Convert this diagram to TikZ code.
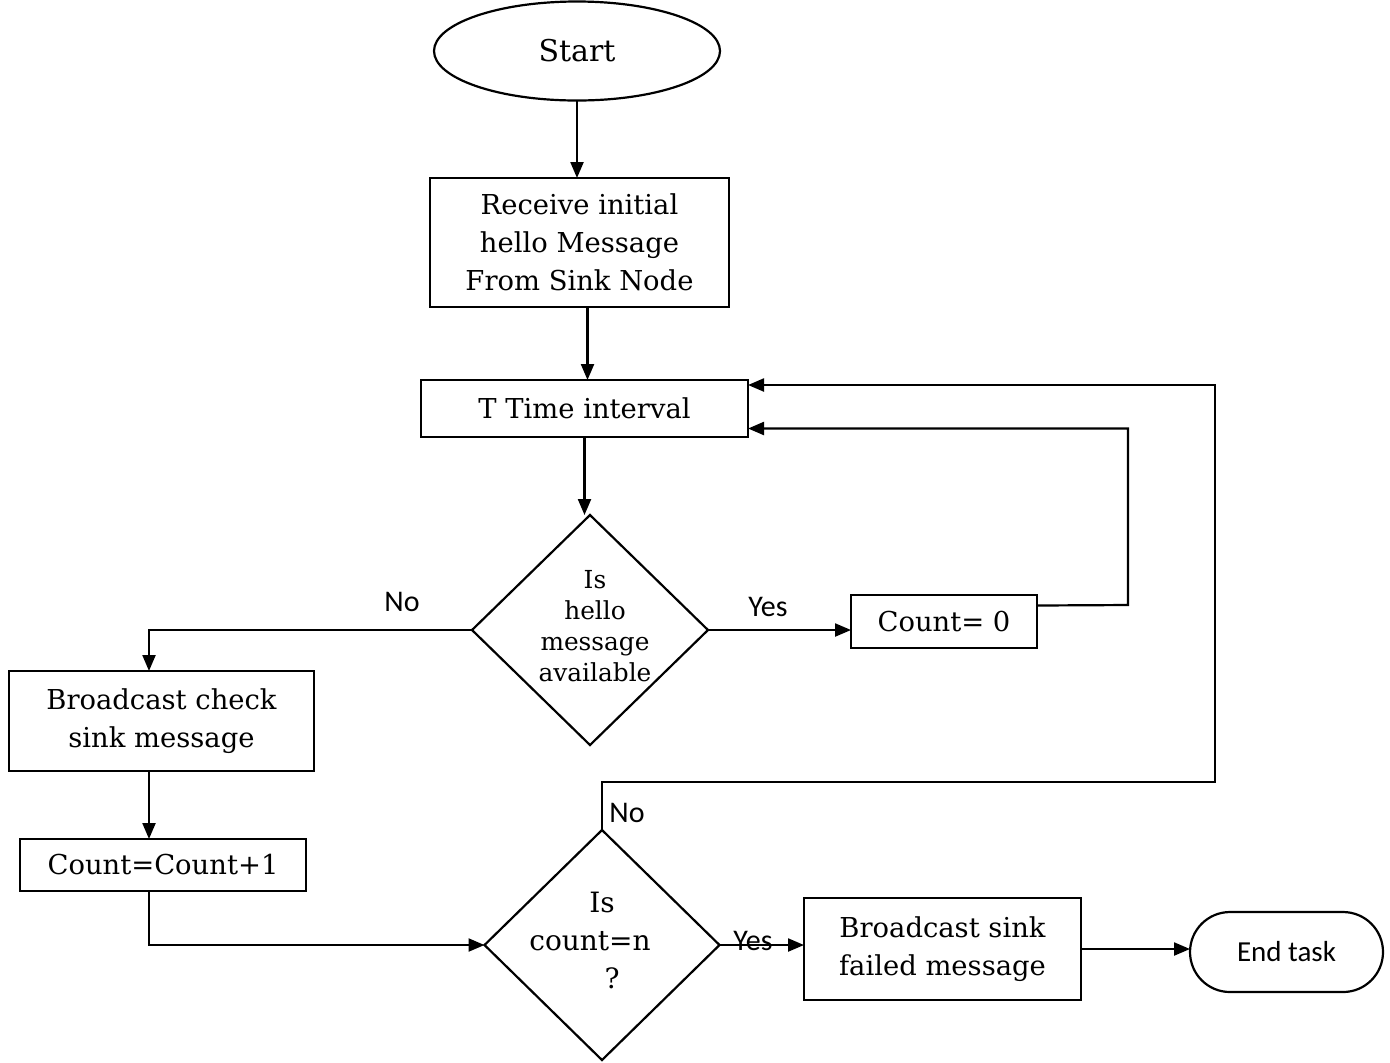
\documentclass[tikz,border=0pt]{standalone}
\usepackage{fontspec}
\setmainfont{DejaVu Serif}
\newfontfamily\labelfont{Carlito}
\usetikzlibrary{shapes.geometric,arrows.meta}
\begin{document}
\begin{tikzpicture}[x=0.5pt,y=-0.5pt,
  line width=1.1pt,
  every node/.style={inner sep=0pt,outer sep=0pt},
  box/.style={draw,rectangle,align=center,font=\fontsize{13.7}{19}\selectfont},
  dia/.style={draw,diamond},
  diatext/.style={align=center},
  arr/.style={-{Triangle[length=8pt,width=6.5pt]}},
  lbl/.style={font=\labelfont\fontsize{15}{17}\selectfont},
]
\useasboundingbox (0,0) rectangle (1390,1062);

% process nodes
\node[draw,ellipse,minimum width=143pt,minimum height=49.5pt,font=\fontsize{15}{19}\selectfont] (start) at (577,51) {Start};
\node[box,minimum width=149.5pt,minimum height=64.5pt] (recv) at (579.5,242.5) {Receive initial\\hello Message\\From Sink Node};
\node[box,minimum width=163.5pt,minimum height=28.5pt] (tbox) at (584.5,408.5) {T Time interval};
\node[dia,minimum width=118pt,minimum height=115pt] (d1) at (590,630) {};
\node[diatext,font=\fontsize{12.4}{15.5}\selectfont] (d1t) at (595,626) {Is\\hello\\message\\available};
\node[box,minimum width=93pt,minimum height=26.5pt] (c0) at (944,621.5) {Count= 0};
\node[box,minimum width=152.5pt,minimum height=50pt] (bcheck) at (161.5,721) {Broadcast check\\sink message};
\node[box,minimum width=143pt,minimum height=26pt] (cp) at (163,865) {Count=Count+1};
\node[dia,minimum width=117.5pt,minimum height=115pt] (d2) at (602,945) {};
\node[diatext,font=\fontsize{14}{19}\selectfont] (d2t) at (590,940) {\hspace*{12pt}Is\\count=n\\\hspace*{22pt}?};
\node[box,minimum width=138.5pt,minimum height=51pt] (bf) at (942.5,949) {Broadcast sink\\failed message};
\node[draw,rounded corners=20pt,minimum width=96.5pt,minimum height=40pt,font=\labelfont\fontsize{14.5}{16}\selectfont] (endt) at (1286.5,952) {End task};
\coordinate (loopB) at (1128,605);
\coordinate (loopA) at (1215,782);

% connectors
\draw[arr] (start.south) -- (start.south |- recv.north);
\draw[arr] ([xshift=4pt]recv.south) -- ([xshift=4pt]recv.south |- tbox.north);
\draw[arr] (tbox.south) -- (tbox.south |- d1.north);
\draw[arr] (d1.east) -- (d1.east -| c0.west);
\draw[arr] ([yshift=8pt]c0.east) -- (loopB) |- ([yshift=-10pt]tbox.east);
\draw[arr] (d1.west) -| ([xshift=-6.25pt]bcheck.north);
\draw[arr] ([xshift=-6.25pt]bcheck.south) -- ([xshift=-6.25pt]bcheck.south |- cp.north);
\draw[arr] ([xshift=-7pt]cp.south) |- (d2.west);
\draw[arr] (d2.north) |- (loopA) |- ([yshift=11.75pt]tbox.east);
\draw[arr] (d2.east) -- (d2.east -| bf.west);
\draw[arr] (bf.east) -- (bf.east -| endt.west);

% branch labels
\node[lbl] (no1) at (402,602) {No};
\node[lbl] (yes1) at (768,607) {Yes};
\node[lbl] (no2) at (627,813) {No};
\node[lbl] (yes2) at (753,941) {Yes};
\end{tikzpicture}
\end{document}
